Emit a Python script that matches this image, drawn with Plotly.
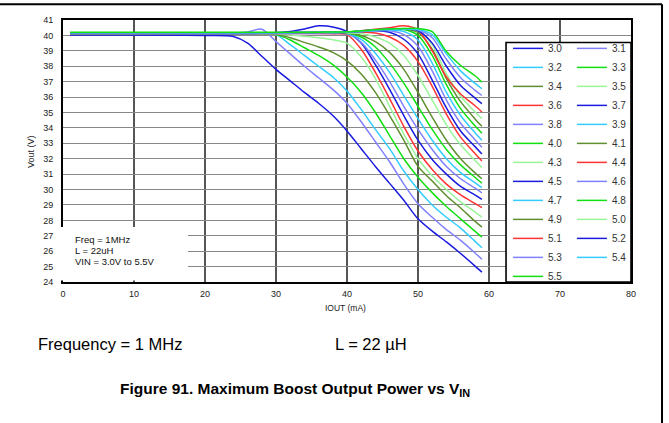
import plotly.graph_objects as go

# IOUT (mA) sample points shared by every curve
iout = [1, 20, 24, 26, 28, 30, 32, 34, 36, 38, 40, 42, 44, 46, 48, 50, 52, 54, 56, 58, 59]

# Vout (V), one list per VIN
v30 = [40.02, 40.0, 39.93, 39.5, 38.65, 37.8, 37.05, 36.3, 35.6, 34.8, 33.8, 32.65, 31.5, 30.4, 29.3, 28.1, 27.3, 26.6, 25.85, 25.05, 24.64]
v31 = [40.08, 40.1, 40.15, 40.22, 40.4, 39.6, 38.8, 38.0, 37.25, 36.5, 35.6, 34.4, 33.1, 31.8, 30.35, 29.08, 28.2, 27.4, 26.7, 25.9, 25.48]
v32 = [40.08, 40.1, 40.1, 40.1, 40.1, 40.05, 39.4, 38.7, 38.0, 37.3, 36.4, 35.2, 33.9, 32.65, 31.2, 30.0, 29.0, 28.2, 27.5, 26.65, 26.22]
v33 = [40.08, 40.1, 40.1, 40.1, 40.1, 40.05, 39.7, 39.2, 38.7, 38.1, 37.3, 36.3, 35.0, 33.5, 32.0, 30.8, 29.8, 28.9, 28.1, 27.3, 26.91]
v34 = [40.1, 40.12, 40.12, 40.12, 40.12, 40.08, 39.85, 39.55, 39.25, 38.9, 38.35, 37.5, 36.3, 34.8, 33.2, 31.5, 30.55, 29.6, 28.8, 27.95, 27.56]
v35 = [40.1, 40.12, 40.12, 40.12, 40.12, 40.1, 40.02, 39.95, 39.85, 39.72, 39.5, 38.6, 37.2, 35.4, 33.6, 32.0, 30.9, 30.0, 29.2, 28.55, 28.21]
v36 = [40.12, 40.12, 40.12, 40.12, 40.12, 40.12, 40.12, 40.12, 40.12, 40.1, 40.05, 39.1, 37.6, 35.9, 34.1, 32.5, 31.3, 30.35, 29.65, 29.1, 28.82]
v37 = [40.12, 40.12, 40.12, 40.12, 40.14, 40.18, 40.25, 40.42, 40.62, 40.55, 40.25, 39.5, 38.1, 36.5, 34.8, 33.2, 31.95, 31.0, 30.2, 29.65, 29.36]
v38 = [40.12, 40.12, 40.12, 40.12, 40.12, 40.12, 40.12, 40.12, 40.12, 40.12, 40.1, 39.55, 38.4, 37.0, 35.4, 33.9, 32.6, 31.5, 30.7, 30.1, 29.79]
v39 = [40.14, 40.14, 40.14, 40.14, 40.14, 40.14, 40.14, 40.14, 40.14, 40.14, 40.12, 39.75, 38.85, 37.6, 36.1, 34.6, 33.2, 32.0, 31.1, 30.45, 30.12]
v40 = [40.15, 40.15, 40.15, 40.15, 40.15, 40.15, 40.15, 40.15, 40.15, 40.15, 40.15, 39.9, 39.25, 38.2, 36.9, 35.4, 33.9, 32.6, 31.6, 30.8, 30.42]
v41 = [40.15, 40.15, 40.15, 40.15, 40.15, 40.15, 40.15, 40.15, 40.15, 40.15, 40.15, 40.0, 39.6, 38.9, 37.8, 36.3, 34.7, 33.2, 32.0, 31.1, 30.7]
v43 = [40.16, 40.16, 40.16, 40.16, 40.16, 40.16, 40.16, 40.16, 40.16, 40.17, 40.18, 40.12, 39.9, 39.5, 38.7, 37.4, 35.8, 34.2, 32.9, 31.9, 31.42]
v44 = [40.16, 40.16, 40.16, 40.16, 40.16, 40.16, 40.16, 40.17, 40.18, 40.19, 40.2, 40.22, 40.15, 39.9, 39.35, 38.3, 36.7, 34.9, 33.4, 32.35, 31.85]
v45 = [40.16, 40.16, 40.16, 40.16, 40.16, 40.16, 40.16, 40.17, 40.18, 40.19, 40.2, 40.25, 40.3, 40.2, 39.75, 38.8, 37.1, 35.3, 33.8, 32.8, 32.3]
v46 = [40.17, 40.17, 40.17, 40.17, 40.17, 40.17, 40.17, 40.18, 40.18, 40.19, 40.2, 40.25, 40.3, 40.3, 40.05, 39.3, 37.7, 35.8, 34.3, 33.25, 32.75]
v47 = [40.17, 40.17, 40.17, 40.17, 40.17, 40.17, 40.17, 40.18, 40.18, 40.19, 40.2, 40.25, 40.32, 40.35, 40.25, 39.7, 38.2, 36.3, 34.8, 33.7, 33.2]
v48 = [40.18, 40.18, 40.18, 40.18, 40.18, 40.18, 40.18, 40.19, 40.2, 40.21, 40.22, 40.28, 40.35, 40.4, 40.38, 40.0, 38.7, 36.8, 35.25, 34.15, 33.65]
v49 = [40.18, 40.18, 40.18, 40.18, 40.18, 40.18, 40.18, 40.19, 40.2, 40.21, 40.22, 40.28, 40.35, 40.4, 40.42, 40.2, 39.1, 37.2, 35.7, 34.6, 34.1]
v50 = [40.18, 40.18, 40.18, 40.18, 40.18, 40.18, 40.18, 40.19, 40.2, 40.21, 40.22, 40.28, 40.35, 40.42, 40.45, 40.3, 39.4, 37.5, 36.05, 35.05, 34.6]
v51 = [40.18, 40.18, 40.18, 40.18, 40.18, 40.18, 40.18, 40.18, 40.19, 40.2, 40.2, 40.3, 40.4, 40.5, 40.62, 40.35, 39.0, 37.3, 36.2, 35.45, 35.03]
v52 = [40.18, 40.18, 40.18, 40.18, 40.18, 40.18, 40.18, 40.19, 40.2, 40.2, 40.2, 40.28, 40.35, 40.4, 40.42, 40.3, 39.5, 38.0, 36.75, 35.95, 35.57]
v53 = [40.18, 40.18, 40.18, 40.18, 40.18, 40.18, 40.18, 40.19, 40.2, 40.2, 40.22, 40.28, 40.35, 40.4, 40.42, 40.35, 39.85, 38.45, 37.25, 36.45, 36.1]
v54 = [40.18, 40.18, 40.18, 40.18, 40.18, 40.18, 40.18, 40.19, 40.2, 40.2, 40.22, 40.28, 40.35, 40.4, 40.42, 40.38, 40.05, 38.8, 37.7, 36.9, 36.54]
v55 = [40.2, 40.2, 40.2, 40.2, 40.2, 40.2, 40.2, 40.2, 40.21, 40.22, 40.24, 40.3, 40.37, 40.42, 40.45, 40.45, 40.25, 38.95, 38.05, 37.4, 36.97]

vin_labels = ["3.0", "3.1", "3.2", "3.3", "3.4", "3.5", "3.6", "3.7", "3.8", "3.9", "4.0", "4.1",
              "4.3", "4.4", "4.5", "4.6", "4.7", "4.8", "4.9", "5.0", "5.1", "5.2", "5.3", "5.4", "5.5"]
series = [v30, v31, v32, v33, v34, v35, v36, v37, v38, v39, v40, v41,
          v43, v44, v45, v46, v47, v48, v49, v50, v51, v52, v53, v54, v55]

palette = ["#1a1ae0", "#8080ff", "#33ccff", "#11e011", "#5f8f2f", "#99f599", "#ff3333"]

x_ticks = [0, 10, 20, 30, 40, 50, 60, 70, 80]
y_ticks = list(range(24, 42))

fig = go.Figure()
for i, (lab, vals) in enumerate(zip(vin_labels, series)):
    fig.add_trace(go.Scatter(
        x=iout, y=vals, name=lab, mode="lines",
        line=dict(color=palette[i % 7], width=1.5, shape="spline", smoothing=0.8),
        legend="legend" if i % 2 == 0 else "legend2",
        hoverinfo="skip",
    ))

FONT = "Arial, Liberation Sans, sans-serif"

shapes = [
    # white box behind the condition text (covers grid and left axis)
    dict(type="rect", xref="paper", yref="paper", x0=-0.012, x1=0.22, y0=0.006, y1=0.21,
         fillcolor="white", line=dict(width=0), layer="above"),
    # legend frame
    dict(type="rect", xref="paper", yref="paper", x0=0.78, x1=1.0, y0=0.0, y1=0.914,
         fillcolor="white", line=dict(color="black", width=1.6), layer="above"),
    # outer frame: top and right
    dict(type="line", xref="paper", yref="paper", x0=-0.12, x1=1.0546, y0=1.06, y1=1.06,
         line=dict(color="black", width=2)),
    dict(type="line", xref="paper", yref="paper", x0=1.0546, x1=1.0546, y0=1.06, y1=-0.6,
         line=dict(color="black", width=2)),
]

annotations = [
    dict(text="Freq = 1MHz", x=0.0176, y=0.163, xref="paper", yref="paper", xanchor="left",
         yanchor="middle", showarrow=False, font=dict(family=FONT, size=9.5, color="#111")),
    dict(text="L = 22uH", x=0.0176, y=0.121, xref="paper", yref="paper", xanchor="left",
         yanchor="middle", showarrow=False, font=dict(family=FONT, size=9.5, color="#111")),
    dict(text="VIN = 3.0V to 5.5V", x=0.0176, y=0.080, xref="paper", yref="paper", xanchor="left",
         yanchor="middle", showarrow=False, font=dict(family=FONT, size=9.5, color="#111")),
    dict(text="Vout (V)", x=-0.0565, y=0.5, xref="paper", yref="paper", textangle=-90,
         xanchor="center", yanchor="middle", showarrow=False,
         font=dict(family=FONT, size=9, color="#222")),
    dict(text="IOUT (mA)", x=0.4965, y=-0.1, xref="paper", yref="paper",
         xanchor="center", yanchor="middle", showarrow=False,
         font=dict(family=FONT, size=8.5, color="#222")),
    dict(text="Frequency = 1 MHz", x=-0.0475, y=-0.238, xref="paper", yref="paper",
         xanchor="left", yanchor="middle", showarrow=False,
         font=dict(family=FONT, size=16.5, color="black")),
    dict(text="L = 22 µH", x=0.4754, y=-0.238, xref="paper", yref="paper",
         xanchor="left", yanchor="middle", showarrow=False,
         font=dict(family=FONT, size=16.5, color="black")),
    dict(text="<b>Figure 91. Maximum Boost Output Power vs V<sub>IN</sub></b>", x=0.0968, y=-0.41,
         xref="paper", yref="paper", xanchor="left", yanchor="middle", showarrow=False,
         font=dict(family=FONT, size=15.5, color="black")),
]

legend_common = dict(bgcolor="rgba(0,0,0,0)", borderwidth=0, font=dict(family=FONT, size=10, color="#333"),
                     yanchor="top", xanchor="left", traceorder="normal", orientation="v")

fig.update_layout(
    width=669, height=423,
    margin=dict(l=63, r=38, t=20, b=141),
    paper_bgcolor="white", plot_bgcolor="white",
    font=dict(family=FONT, size=9, color="#222"),
    xaxis=dict(range=[0, 80], tickvals=x_ticks, ticktext=[str(t) for t in x_ticks],
               showgrid=True, gridcolor="#555", gridwidth=1.5, zeroline=False,
               showline=True, linecolor="black", linewidth=2, mirror=True,
               ticks="", ticklabelstandoff=2, tickfont=dict(family=FONT, size=9, color="#222")),
    yaxis=dict(range=[24, 41], tickvals=y_ticks, ticktext=[str(t) for t in y_ticks],
               showgrid=True, gridcolor="#888", gridwidth=1, zeroline=False,
               showline=True, linecolor="black", linewidth=2, mirror=True,
               ticks="", ticklabelstandoff=6, tickfont=dict(family=FONT, size=9, color="#222")),
    legend=dict(x=0.7835, y=0.947, **legend_common),
    legend2=dict(x=0.896, y=0.947, **legend_common),
    shapes=shapes,
    annotations=annotations,
    showlegend=True,
)

fig.write_html("out.html", config={"displayModeBar": False},
               post_script="document.body.style.margin='0px';")
